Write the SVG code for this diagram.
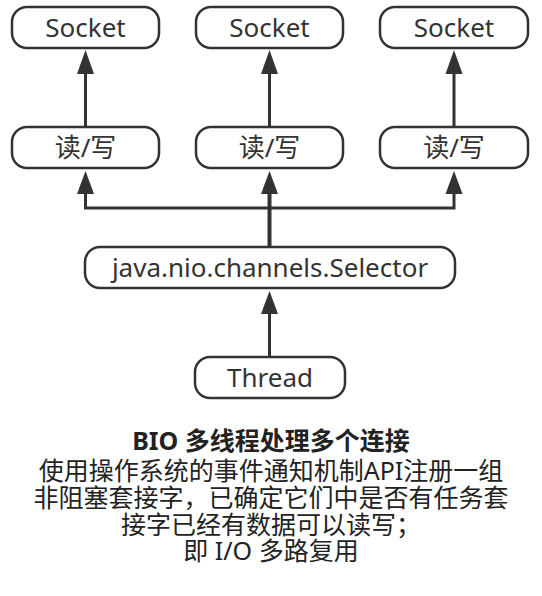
<svg xmlns="http://www.w3.org/2000/svg" width="542" height="596" viewBox="0 0 542 596">
<defs>
<style>
.box{fill:#fff;stroke:#333;stroke-width:2.5}
.lbl{font-family:"Noto Sans","Noto Sans CJK SC",sans-serif;font-size:26px;fill:#333;text-anchor:middle}
.ln{fill:none;stroke:#333;stroke-width:3}
.ah{fill:#333}
.cap{font-family:"Noto Sans","Noto Sans CJK SC",sans-serif;font-size:25px;fill:#222;text-anchor:middle}
</style>
</defs>
<rect width="542" height="596" fill="#fff"/>
<g id="connectors">
<path class="ln" d="M85.5 127 V74"/>
<path class="ln" d="M269.5 127 V74"/>
<path class="ln" d="M454 127 V74"/>
<path class="ln" d="M85.5 194 V208 H454 V194"/>
<path class="ln" d="M269.5 247 V194" style="stroke-width:4"/>
<path class="ln" d="M269.5 357 V314"/>
<path class="ah" d="M85.5 50 L94 74 L77 74 Z"/>
<path class="ah" d="M269.5 50 L278 74 L261 74 Z"/>
<path class="ah" d="M454 50 L462.5 74 L445.5 74 Z"/>
<path class="ah" d="M85.5 171 L94 194 L77 194 Z"/>
<path class="ah" d="M269.5 171 L278 194 L261 194 Z"/>
<path class="ah" d="M454 171 L462.5 194 L445.5 194 Z"/>
<path class="ah" d="M269.5 291 L278 314 L261 314 Z"/>
</g>
<g id="socket1"><rect class="box" x="12" y="7" width="147" height="41" rx="15"/><text class="lbl" x="85.5" y="37">Socket</text></g>
<g id="socket2"><rect class="box" x="196" y="7" width="147" height="41" rx="15"/><text class="lbl" x="269.5" y="37">Socket</text></g>
<g id="socket3"><rect class="box" x="380" y="7" width="148" height="41" rx="15"/><text class="lbl" x="454" y="37">Socket</text></g>
<g id="rw1"><rect class="box" x="12" y="127" width="147" height="41" rx="15"/><text class="lbl" x="85.5" y="157">读/写</text></g>
<g id="rw2"><rect class="box" x="196" y="127" width="147" height="41" rx="15"/><text class="lbl" x="269.5" y="157">读/写</text></g>
<g id="rw3"><rect class="box" x="380" y="127" width="148" height="41" rx="15"/><text class="lbl" x="454" y="157">读/写</text></g>
<g id="selector"><rect class="box" x="85" y="247" width="370" height="41" rx="15"/><text class="lbl" x="270" y="277">java.nio.channels.Selector</text></g>
<g id="thread"><rect class="box" x="195" y="357" width="150" height="41" rx="15"/><text class="lbl" x="270" y="387">Thread</text></g>
<g id="caption">
<text class="cap"><tspan x="271" y="450" font-weight="bold">BIO 多线程处理多个连接</tspan><tspan x="271" y="480">使用操作系统的事件通知机制API注册一组</tspan><tspan x="271" y="507">非阻塞套接字，已确定它们中是否有任务套</tspan><tspan x="271" y="534">接字已经有数据可以读写；</tspan><tspan x="271" y="560">即 I/O 多路复用</tspan></text>
</g>
</svg>
